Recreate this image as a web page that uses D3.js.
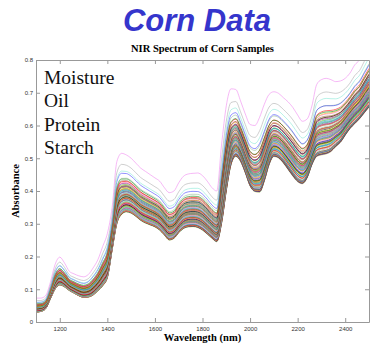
<!DOCTYPE html>
<html>
<head>
<meta charset="utf-8">
<script src="https://cdn.jsdelivr.net/npm/d3@7"></script>
<style>
  body { margin: 0; background: #fff; }
  svg { display: block; }
</style>
</head>
<body>
<div id="chart"></div>
<script>
// wavelengths (nm), every 20 nm
var wavelengths = [1100,1120,1140,1160,1180,1200,1220,1240,1260,1280,1300,1320,1340,1360,1380,1400,
  1420,1440,1460,1480,1500,1520,1540,1560,1580,1600,1620,1640,1660,1680,1700,1720,1740,1760,1780,1800,
  1820,1840,1860,1880,1900,1920,1940,1960,1980,2000,2020,2040,2060,2080,2100,2120,2140,2160,2180,2200,
  2220,2240,2260,2280,2300,2320,2340,2360,2380,2400,2420,2440,2460,2480,2500];

// highest spectrum (the violet one)
var topSpectrum = [0.073,0.073,0.080,0.120,0.175,0.198,0.180,0.155,0.147,0.141,0.138,0.145,0.165,0.190,0.230,0.270,
  0.350,0.490,0.515,0.510,0.500,0.485,0.470,0.460,0.450,0.440,0.430,0.410,0.395,0.400,0.425,0.445,0.452,0.454,0.455,0.447,
  0.430,0.410,0.400,0.540,0.660,0.712,0.710,0.675,0.635,0.603,0.600,0.625,0.665,0.695,0.703,0.698,0.685,0.672,0.655,0.632,
  0.613,0.620,0.660,0.725,0.740,0.744,0.740,0.734,0.736,0.744,0.760,0.785,0.800,0.830,0.860];

// lowest spectrum
var bottomSpectrum = [0.030,0.032,0.040,0.070,0.100,0.113,0.107,0.096,0.088,0.080,0.075,0.076,0.082,0.095,0.110,0.135,
  0.220,0.300,0.328,0.336,0.332,0.322,0.310,0.302,0.296,0.290,0.280,0.265,0.250,0.255,0.272,0.285,0.290,0.291,0.288,0.280,
  0.268,0.255,0.245,0.300,0.400,0.480,0.505,0.490,0.455,0.415,0.398,0.396,0.430,0.480,0.505,0.500,0.485,0.465,0.445,0.428,
  0.422,0.440,0.480,0.505,0.510,0.513,0.520,0.535,0.548,0.570,0.590,0.605,0.620,0.638,0.656];

// where each of the 80 samples sits between lowest and highest, and its slope across the range
var sampleLevel = [1.00,0.82,0.72,0.66,0.61,0.57,0.55,0.53,0.52,0.50,0.49,0.47,0.46,0.455,0.44,0.43,
  0.425,0.41,0.40,0.395,0.385,0.38,0.37,0.36,0.355,0.35,0.34,0.335,0.33,0.32,0.31,0.305,
  0.30,0.29,0.285,0.28,0.27,0.265,0.26,0.25,0.245,0.24,0.235,0.225,0.22,0.21,0.205,0.20,
  0.19,0.185,0.18,0.17,0.165,0.16,0.15,0.145,0.14,0.13,0.125,0.12,0.11,0.105,0.10,0.09,
  0.085,0.08,0.07,0.065,0.06,0.05,0.045,0.04,0.035,0.03,0.025,0.02,0.015,0.01,0.005,0.00];
var sampleTilt = [0,0,0.02,-0.03,0.04,-0.02,0.03,-0.04,0.01,0.05,-0.03,0.02,-0.05,0.04,-0.01,0.03,
  -0.04,0.05,-0.02,0.01,0.04,-0.05,0.02,-0.03,0.05,-0.01,0.03,-0.04,0.02,0.04,-0.05,0.01,
  -0.02,0.05,-0.03,0.03,-0.04,0.02,0.04,-0.05,0.01,-0.02,0.05,-0.03,0.03,-0.01,0.04,-0.04,
  0.02,-0.05,0.05,-0.02,0.03,-0.03,0.01,0.04,-0.04,0.02,-0.01,0.05,-0.03,0.03,-0.02,0.04,
  -0.05,0.02,0.01,-0.03,0.04,-0.02,0.03,-0.01,0.02,-0.02,0.01,0.01,-0.01,0.005,0,0];

var lineColors = ["#ee82ee","#a9a9a9","#7fe8d4","#3b3bff","#8fbc8f","#008000","#ff0000","#8b5a2b",
  "#ff69b4","#e8c000","#800080","#000000","#20b2aa","#d2691e","#4682b4","#9acd32","#dc143c",
  "#00bfbf","#b8860b","#6a5acd","#2e8b57","#ff8c00"];

var legendItems = ["Moisture","Oil","Protein","Starch"];
var xTicks = [1200,1400,1600,1800,2000,2200,2400];
var yTicks = [0,0.1,0.2,0.3,0.4,0.5,0.6,0.7,0.8];

var W = 370, H = 348;
var pad = { left: 36, right: 369, top: 60, bottom: 322 };

var svg = d3.select("#chart").append("svg").attr("width", W).attr("height", H);

var x = d3.scaleLinear().domain([1100, 2500]).range([pad.left, pad.right]);
var y = d3.scaleLinear().domain([0, 0.8]).range([pad.bottom, pad.top]);

// build each sample's spectrum from the two envelopes
var samples = sampleLevel.map(function(lv, i) {
  return wavelengths.map(function(wl, j) {
    var f = lv + sampleTilt[i] * (wl - 1800) / 700;
    f = Math.max(0, Math.min(1, f));
    if (i === 0) f = 1;
    return { wl: wl, a: bottomSpectrum[j] + f * (topSpectrum[j] - bottomSpectrum[j]) };
  });
});

svg.append("clipPath").attr("id", "plotclip")
  .append("rect").attr("x", pad.left).attr("y", pad.top)
  .attr("width", pad.right - pad.left).attr("height", pad.bottom - pad.top);

var line = d3.line()
  .x(function(d) { return x(d.wl); })
  .y(function(d) { return y(d.a); })
  .curve(d3.curveMonotoneX);

var g = svg.append("g").attr("clip-path", "url(#plotclip)");
g.selectAll("path")
  .data(samples.slice().reverse())
  .enter().append("path")
  .attr("d", line)
  .attr("fill", "none")
  .attr("stroke-width", 0.7)
  .attr("stroke-opacity", 0.8)
  .attr("stroke", function(d, k) {
    var i = samples.length - 1 - k;
    if (i === samples.length - 1) return "#f0c040";
    return lineColors[i % lineColors.length];
  });

// axes, MATLAB style with inward ticks
var fmtY = function(d) { return d === 0 ? "0" : d.toFixed(1); };

svg.append("g").attr("transform", "translate(0," + pad.bottom + ")")
  .call(d3.axisBottom(x).tickValues(xTicks).tickSize(-4).tickSizeOuter(0).tickPadding(5).tickFormat(d3.format("d")));
svg.append("g").attr("transform", "translate(0," + pad.top + ")")
  .call(d3.axisTop(x).tickValues(xTicks).tickSize(-4).tickSizeOuter(0).tickFormat(""));
svg.append("g").attr("transform", "translate(" + pad.left + ",0)")
  .call(d3.axisLeft(y).tickValues(yTicks).tickSize(-4).tickSizeOuter(0).tickPadding(3).tickFormat(fmtY));
svg.append("g").attr("transform", "translate(" + pad.right + ",0)")
  .call(d3.axisRight(y).tickValues(yTicks).tickSize(-4).tickSizeOuter(0).tickFormat(""));

svg.selectAll(".domain, .tick line").attr("stroke", "#999");
svg.selectAll(".tick text").attr("font-family", "Liberation Sans, Arial, sans-serif")
  .attr("font-size", 6).attr("fill", "#333");

// titles
svg.append("text")
  .attr("x", 197).attr("y", 31)
  .attr("text-anchor", "middle")
  .attr("font-family", "Liberation Sans, Arial, sans-serif")
  .attr("font-weight", "bold").attr("font-style", "italic")
  .attr("font-size", 31).attr("fill", "#3535cc")
  .text("Corn Data");

svg.append("text")
  .attr("x", (pad.left + pad.right) / 2).attr("y", 52)
  .attr("text-anchor", "middle")
  .attr("font-family", "Liberation Serif, Times New Roman, serif")
  .attr("font-weight", "bold").attr("font-size", 10.5)
  .text("NIR Spectrum of Corn Samples");

svg.append("text")
  .attr("x", (pad.left + pad.right) / 2).attr("y", 341)
  .attr("text-anchor", "middle")
  .attr("font-family", "Liberation Serif, Times New Roman, serif")
  .attr("font-weight", "bold").attr("font-size", 10.5)
  .text("Wavelength (nm)");

svg.append("text")
  .attr("transform", "translate(19," + (pad.top + pad.bottom) / 2 + ") rotate(-90)")
  .attr("text-anchor", "middle")
  .attr("font-family", "Liberation Serif, Times New Roman, serif")
  .attr("font-weight", "bold").attr("font-size", 10.5)
  .text("Absorbance");

// legend words
svg.selectAll(".legend")
  .data(legendItems)
  .enter().append("text")
  .attr("class", "legend")
  .attr("x", 44)
  .attr("y", function(d, i) { return 83.5 + i * 23.6; })
  .attr("font-family", "Liberation Serif, Times New Roman, serif")
  .attr("font-size", 19.5)
  .attr("fill", "#111")
  .text(function(d) { return d; });
</script>
</body>
</html>
